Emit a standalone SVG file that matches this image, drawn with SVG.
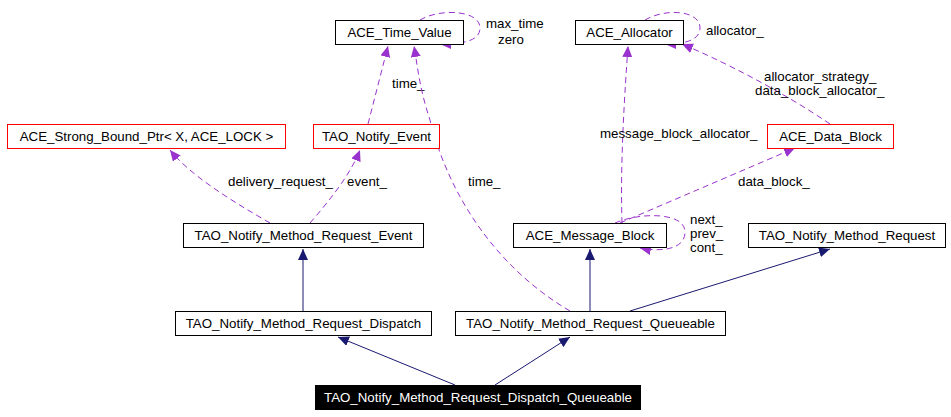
<svg xmlns="http://www.w3.org/2000/svg" width="951" height="417" viewBox="0 0 951 417">
<style>
text{font-family:"Liberation Sans",Arial,sans-serif;font-size:13.3px;fill:#000}
.n rect{fill:#fff;stroke:#000;stroke-width:1}
.r rect{stroke:#f00}
.d{fill:none;stroke:#9a32cd;stroke-dasharray:6,4}
.s{fill:none;stroke:#191970}
</style>
<defs>
<marker id="pa" markerWidth="12" markerHeight="10" refX="11" refY="5" orient="auto" markerUnits="userSpaceOnUse"><path d="M0,0 L11,5 L0,10 z" fill="#9a32cd"/></marker>
<marker id="na" markerWidth="12" markerHeight="10" refX="11" refY="5" orient="auto" markerUnits="userSpaceOnUse"><path d="M0,0 L11,5 L0,10 z" fill="#191970"/></marker>
</defs>
<rect width="951" height="417" fill="#fff"/>
<g id="edges">
<path class="d" d="M368,124 L388,46" marker-end="url(#pa)"/>
<text x="392" y="88">time_</text>
<path class="d" d="M420,20 C440,8 480,10 480,28 C480,42 460,44 440,44" marker-end="url(#pa)"/>
<text x="486" y="28">max_time</text><text x="498" y="44">zero</text>
<path class="d" d="M645,20 C665,8 700,10 700,28 C700,42 680,44 665,44" marker-end="url(#pa)"/>
<text x="706" y="35">allocator_</text>
<path class="d" d="M830,124 C780,90 720,60 682,44" marker-end="url(#pa)"/>
<text x="764" y="81">allocator_strategy_</text><text x="755" y="95">data_block_allocator_</text>
<path class="d" d="M622,223 C620,160 625,90 628,46" marker-end="url(#pa)"/>
<text x="600" y="138">message_block_allocator_</text>
<path class="d" d="M620,223 L795,148" marker-end="url(#pa)"/>
<text x="738" y="186">data_block_</text>
<path class="d" d="M615,223 C640,212 685,212 685,232 C685,250 660,252 640,248" marker-end="url(#pa)"/>
<text x="690" y="224">next_</text><text x="690" y="238">prev_</text><text x="690" y="252">cont_</text>
<path class="d" d="M270,223 C230,200 190,175 170,150" marker-end="url(#pa)"/>
<text x="228" y="186">delivery_request_</text>
<path class="d" d="M310,223 C330,200 350,175 360,150" marker-end="url(#pa)"/>
<text x="347" y="186">event_</text>
<path class="d" d="M570,311 C500,270 450,200 430,120 C420,90 418,70 414,46" marker-end="url(#pa)"/>
<text x="468" y="186">time_</text>
<path class="s" d="M303,311 L303,249" marker-end="url(#na)"/>
<path class="s" d="M590,311 L590,249" marker-end="url(#na)"/>
<path class="s" d="M630,311 L830,249" marker-end="url(#na)"/>
<path class="s" d="M455,385 L338,337" marker-end="url(#na)"/>
<path class="s" d="M495,385 L570,337" marker-end="url(#na)"/>
</g>
<g id="n1" class="n"><rect x="335.5" y="20.5" width="128" height="24"/><text x="399.5" y="37" text-anchor="middle">ACE_Time_Value</text></g>
<g id="n2" class="n"><rect x="575.5" y="20.5" width="108" height="24"/><text x="629.5" y="37" text-anchor="middle">ACE_Allocator</text></g>
<g id="n3" class="n r"><rect x="7.5" y="124.5" width="278" height="24"/><text x="146.5" y="141" text-anchor="middle">ACE_Strong_Bound_Ptr&lt; X, ACE_LOCK &gt;</text></g>
<g id="n4" class="n r"><rect x="313.5" y="124.5" width="126" height="24"/><text x="376.5" y="141" text-anchor="middle">TAO_Notify_Event</text></g>
<g id="n5" class="n r"><rect x="767.5" y="124.5" width="126" height="24"/><text x="830.5" y="141" text-anchor="middle">ACE_Data_Block</text></g>
<g id="n6" class="n"><rect x="183.5" y="223.5" width="240" height="24"/><text x="303.5" y="240" text-anchor="middle">TAO_Notify_Method_Request_Event</text></g>
<g id="n7" class="n"><rect x="513.5" y="223.5" width="153" height="24"/><text x="590" y="240" text-anchor="middle">ACE_Message_Block</text></g>
<g id="n8" class="n"><rect x="748.5" y="223.5" width="197" height="24"/><text x="847" y="240" text-anchor="middle">TAO_Notify_Method_Request</text></g>
<g id="n9" class="n"><rect x="175.5" y="311.5" width="256" height="24"/><text x="303.5" y="328" text-anchor="middle">TAO_Notify_Method_Request_Dispatch</text></g>
<g id="n10" class="n"><rect x="455.5" y="311.5" width="270" height="24"/><text x="590.5" y="328" text-anchor="middle">TAO_Notify_Method_Request_Queueable</text></g>
<g id="n11"><rect x="315.5" y="385.5" width="325" height="24" fill="#000" stroke="#000"/><text x="478" y="402" text-anchor="middle" style="fill:#fff">TAO_Notify_Method_Request_Dispatch_Queueable</text></g>
</svg>
